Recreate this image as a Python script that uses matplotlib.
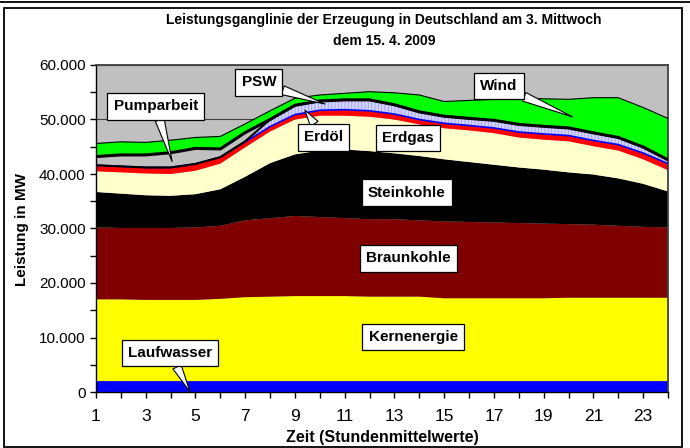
import numpy as np
import matplotlib
matplotlib.use("Agg")
import matplotlib.pyplot as plt
from matplotlib.lines import Line2D
from matplotlib.patches import Rectangle

plt.rcParams["font.family"] = ["Liberation Sans", "DejaVu Sans"]
plt.rcParams["hatch.linewidth"] = 0.6

hours = np.arange(1, 25)

laufwasser = [2000] * 24
kernenergie = [15000, 15000, 14900, 14900, 14900, 15100, 15400, 15500, 15600, 15600, 15600, 15500,
               15500, 15500, 15200, 15200, 15200, 15200, 15200, 15300, 15300, 15300, 15300, 15300]
braunkohle = [13200, 13100, 13200, 13200, 13300, 13400, 14100, 14400, 14700, 14500, 14300, 14200,
              14200, 14000, 14100, 14000, 13900, 13800, 13700, 13500, 13400, 13200, 13000, 12900]
steinkohle = [6500, 6300, 6000, 5900, 6100, 6700, 8000, 10100, 11300, 12200, 12600, 12500,
              12100, 11800, 11400, 11000, 10600, 10200, 9900, 9500, 9200, 8700, 7900, 6600]
erdgas = [3800, 3900, 4000, 4000, 4300, 4700, 5400, 5800, 6400, 6400, 6200, 6300,
          6200, 5800, 5700, 5800, 5800, 5500, 5500, 5700, 5200, 5100, 4500, 3900]
erdoel = [1100, 1100, 1100, 1200, 1250, 1200, 1000, 900, 900, 1000, 1100, 1100,
          1000, 900, 900, 900, 950, 1000, 1050, 1050, 1050, 1100, 1150, 1200]
psw = [0, 0, 0, 0, 0, 0, 100, 1300, 1700, 1700, 1800, 2000,
       1700, 1400, 1300, 1300, 1400, 1400, 1400, 1400, 1400, 1300, 1100, 700]
pumparbeit = [1600, 2100, 2300, 2700, 2850, 1500, 1600, 0, 0, 0, 0, 0,
              0, 0, 0, 0, 0, 0, 0, 0, 0, 0, 0, 0]
wind = [2400, 2400, 2300, 2300, 2000, 2300, 1600, 1600, 1300, 1100, 1200, 1500,
        2200, 3100, 2700, 3300, 3850, 4800, 5050, 5250, 6450, 7300, 7250, 7600]

layers = [laufwasser, kernenergie, braunkohle, steinkohle, erdgas, erdoel, psw, pumparbeit, wind]
colors = ["#0000FF", "#FFFF00", "#800000", "#000000", "#FFFFCC", "#FF0000", "#D4D4FF", "#C0C0C0", "#00FF00"]

fig = plt.figure(figsize=(6.9, 4.48), dpi=100)
ax = fig.add_axes([96 / 690, 1 - 392 / 448, 572 / 690, 327 / 448])
ax.set_facecolor("#C0C0C0")

polys = ax.stackplot(hours, *layers, colors=colors, lw=0)
polys[6].set_hatch("|||||")
polys[6].set_edgecolor("#9A9AFF")

cum = np.cumsum(np.array(layers, dtype=float), axis=0)
ax.plot(hours, cum[5], color="#0000FF", lw=1.2, zorder=3)
ax.plot(hours, cum[6], color="black", lw=1.5, zorder=3)
ax.plot(hours, cum[7], color="black", lw=2.2, zorder=3)
ax.plot(hours, cum[8], color="black", lw=0.8, zorder=3)

ax.set_xlim(1, 24)
ax.set_ylim(0, 60000)
ax.set_axisbelow(True)
ax.grid(axis="y", color="#404040", lw=0.8)

ax.set_xticks(hours)
ax.set_xticklabels([str(h) if h % 2 == 1 else "" for h in hours], fontsize=12.5)
yt = np.arange(0, 60001, 10000)
ax.set_yticks(yt)
ax.set_yticklabels([f"{v:,}".replace(",", ".") for v in yt], fontsize=11)
ax.set_yticks(np.arange(0, 60001, 5000), minor=True)
ax.tick_params(which="both", direction="out", length=4, width=1, colors="black")
ax.tick_params(axis="x", pad=8)

for s in ["left", "bottom"]:
    ax.spines[s].set_color("black")
    ax.spines[s].set_linewidth(1)
for s in ["top", "right"]:
    ax.spines[s].set_color("#404040")
    ax.spines[s].set_linewidth(1.3)

box = dict(boxstyle="square,pad=0.4", fc="white", ec="black", lw=0.9)
arrow = dict(arrowstyle="wedge,tail_width=0.6,shrink_factor=0.5", fc="white", ec="black",
             lw=0.8, shrinkA=0, shrinkB=0)


def callout(text, xytext, xy=None):
    if xy is None:
        ax.text(*xytext, text, fontsize=11, fontweight="bold", ha="center", va="center",
                bbox=box, zorder=6)
    else:
        ax.annotate(text, xy=xy, xytext=xytext, fontsize=11, fontweight="bold",
                    ha="center", va="center", bbox=box, arrowprops=arrow, zorder=6)


callout("Pumparbeit", (3.4, 52400), (4.06, 42300))
callout("PSW", (7.55, 56800), (10.2, 52850))
callout("Erdöl", (10.15, 46700), (9.4, 51700))
callout("Erdgas", (13.55, 46600))
callout("Wind", (17.2, 56100), (20.15, 50500))
callout("Steinkohle", (13.5, 36600))
callout("Braunkohle", (13.55, 24500))
callout("Kernenergie", (13.75, 10100))
callout("Laufwasser", (3.98, 7100), (4.78, 0))

fig.text(384 / 690, 1 - 30.5 / 448, "Leistungsganglinie der Erzeugung in Deutschland am 3. Mittwoch\ndem 15. 4. 2009",
         ha="center", va="center", fontsize=10, fontweight="bold", linespacing=1.6)
fig.text(22 / 690, 1 - 230 / 448, "Leistung in MW", rotation=90, ha="center", va="center",
         fontsize=11, fontweight="bold")
fig.text(382 / 690, 1 - 437 / 448, "Zeit (Stundenmittelwerte)", ha="center", va="center",
         fontsize=11.5, fontweight="bold")

# outer frame
fig.add_artist(Rectangle((4 / 690, 1 / 448), 678 / 690, 439 / 448, transform=fig.transFigure,
                         fill=False, ec="black", lw=1.3))
fig.add_artist(Line2D([0, 1], [1 - 2.5 / 448, 1 - 2.5 / 448], transform=fig.transFigure, color="black", lw=1.3))

fig.savefig("out.png", dpi=100)
